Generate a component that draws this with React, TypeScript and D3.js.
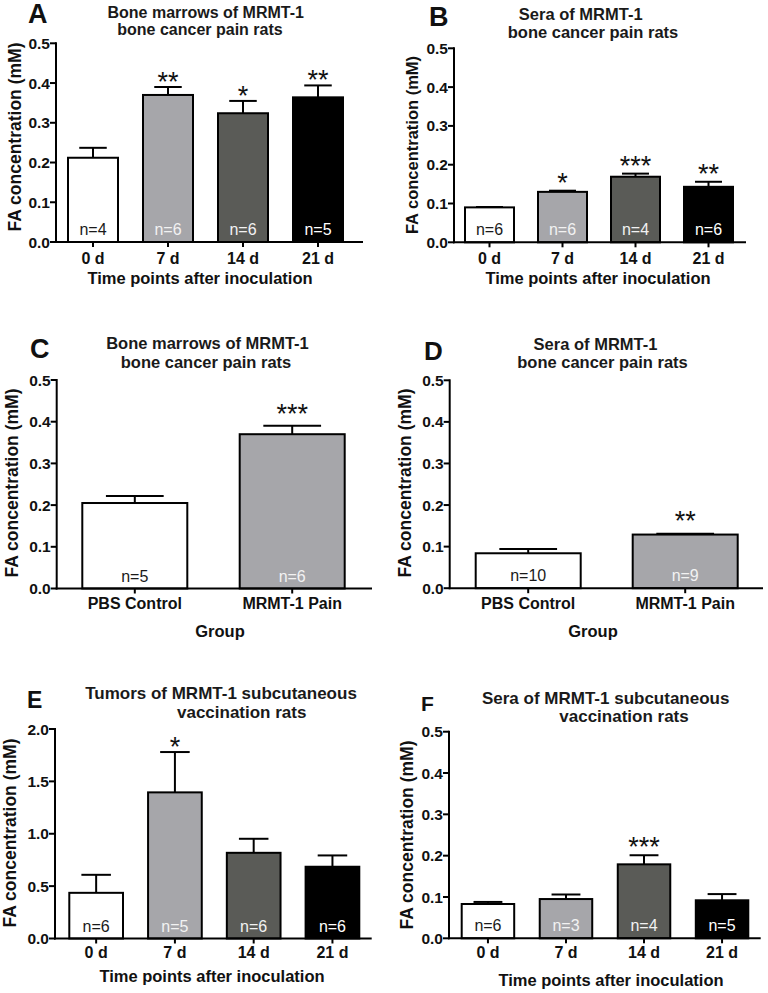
import React from "react";
import * as d3 from "d3";

const FONT = "'Liberation Sans', Arial, Helvetica, sans-serif";

// ---------- data ----------
const timeCategories = ["0 d", "7 d", "14 d", "21 d"];
const groupCategories = ["PBS Control", "MRMT-1 Pain"];

const aMeans = [0.212, 0.370, 0.324, 0.364];
const aSem = [0.025, 0.020, 0.031, 0.030];
const aN = [4, 6, 6, 5];
const aStars = ["", "**", "*", "**"];

const bMeans = [0.090, 0.130, 0.169, 0.143];
const bSem = [0.001, 0.003, 0.008, 0.013];
const bN = [6, 6, 4, 6];
const bStars = ["", "*", "***", "**"];

const cMeans = [0.205, 0.370];
const cSem = [0.017, 0.020];
const cN = [5, 6];
const cStars = ["", "***"];

const dMeans = [0.084, 0.129];
const dSem = [0.010, 0.002];
const dN = [10, 9];
const dStars = ["", "**"];

const eMeans = [0.436, 1.395, 0.818, 0.685];
const eSem = [0.172, 0.385, 0.134, 0.108];
const eN = [6, 5, 6, 6];
const eStars = ["", "*", "", ""];

const fMeans = [0.083, 0.095, 0.179, 0.092];
const fSem = [0.005, 0.011, 0.022, 0.015];
const fN = [6, 3, 4, 5];
const fStars = ["", "", "***", ""];

const titleA = ["Bone marrows of MRMT-1", "bone cancer pain rats"];
const titleB = ["Sera of MRMT-1", "bone cancer pain rats"];
const titleE = ["Tumors of MRMT-1 subcutaneous", "vaccination rats"];
const titleF = ["Sera of MRMT-1 subcutaneous", "vaccination rats"];
const yAxisTitle = "FA concentration (mM)";
const timeAxisTitle = "Time points after inoculation";
const groupAxisTitle = "Group";

// ---------- styles ----------
const timeFills = ["#ffffff", "#a6a6aa", "#5a5b57", "#000000"];
const timeTextFills = ["#1a1a1a", "#f2f2f2", "#f2f2f2", "#ffffff"];
const groupFills = ["#ffffff", "#a6a6aa"];
const groupTextFills = ["#1a1a1a", "#f2f2f2"];

type Panel = {
  letter: string; letterX: number; letterY: number; letterSize: number;
  title: string[]; titleX: number[]; titleY: number[]; titleSize: number;
  cats: string[]; means: number[]; sem: number[]; n: number[]; stars: string[];
  fills: string[]; textFills: string[];
  axisX: number; yTop: number; yBottom: number; yMax: number; tickCount: number;
  axisEnd: number; barLeft: number; barRight: number; barW: number;
  xLabelY: number; xTitle: string; xTitleX: number; xTitleY: number;
  yTitleX: number; yTitleY: number; yTitleSize: number; starGap: number;
};

const panels: Panel[] = [
  {
    letter: "A", letterX: 28, letterY: 23, letterSize: 27,
    title: titleA, titleX: [205.7, 200], titleY: [17.5, 34.5], titleSize: 16,
    cats: timeCategories, means: aMeans, sem: aSem, n: aN, stars: aStars,
    fills: timeFills, textFills: timeTextFills,
    axisX: 56, yTop: 43.3, yBottom: 242, yMax: 0.5, tickCount: 5,
    axisEnd: 363, barLeft: 68, barRight: 343, barW: 50,
    xLabelY: 263.5, xTitle: timeAxisTitle, xTitleX: 200, xTitleY: 284,
    yTitleX: 15, yTitleY: 137, yTitleSize: 17.5, starGap: 12,
  },
  {
    letter: "B", letterX: 429, letterY: 26, letterSize: 27,
    title: titleB, titleX: [580.7, 593], titleY: [20, 37.5], titleSize: 16.5,
    cats: timeCategories, means: bMeans, sem: bSem, n: bN, stars: bStars,
    fills: timeFills, textFills: timeTextFills,
    axisX: 454, yTop: 48.3, yBottom: 242.3, yMax: 0.5, tickCount: 5,
    axisEnd: 746, barLeft: 465, barRight: 733, barW: 49,
    xLabelY: 263.5, xTitle: timeAxisTitle, xTitleX: 598, xTitleY: 284,
    yTitleX: 412, yTitleY: 145, yTitleSize: 16.5, starGap: 14,
  },
  {
    letter: "C", letterX: 30, letterY: 358, letterSize: 27,
    title: titleA, titleX: [207.5, 206], titleY: [349, 368], titleSize: 16.5,
    cats: groupCategories, means: cMeans, sem: cSem, n: cN, stars: cStars,
    fills: groupFills, textFills: groupTextFills,
    axisX: 56.7, yTop: 380, yBottom: 588.5, yMax: 0.5, tickCount: 5,
    axisEnd: 372, barLeft: 82.3, barRight: 344.7, barW: 105,
    xLabelY: 609, xTitle: groupAxisTitle, xTitleX: 220, xTitleY: 637,
    yTitleX: 12, yTitleY: 483, yTitleSize: 17.5, starGap: 19,
  },
  {
    letter: "D", letterX: 424, letterY: 360, letterSize: 26,
    title: titleB, titleX: [595.5, 602.5], titleY: [350, 367.5], titleSize: 16.5,
    cats: groupCategories, means: dMeans, sem: dSem, n: dN, stars: dStars,
    fills: groupFills, textFills: groupTextFills,
    axisX: 449.7, yTop: 380.3, yBottom: 588.2, yMax: 0.5, tickCount: 5,
    axisEnd: 763, barLeft: 475.7, barRight: 737.7, barW: 105,
    xLabelY: 609, xTitle: groupAxisTitle, xTitleX: 593, xTitleY: 637,
    yTitleX: 404.5, yTitleY: 483, yTitleSize: 17.5, starGap: 19,
  },
  {
    letter: "E", letterX: 27, letterY: 708, letterSize: 23,
    title: titleE, titleX: [221, 241.7], titleY: [699, 718], titleSize: 17,
    cats: timeCategories, means: eMeans, sem: eSem, n: eN, stars: eStars,
    fills: timeFills, textFills: timeTextFills,
    axisX: 55, yTop: 729, yBottom: 938.5, yMax: 2.0, tickCount: 4,
    axisEnd: 371.7, barLeft: 69.3, barRight: 359.3, barW: 53.7,
    xLabelY: 958, xTitle: timeAxisTitle, xTitleX: 212, xTitleY: 981.5,
    yTitleX: 10, yTitleY: 833, yTitleSize: 17.5, starGap: 12,
  },
  {
    letter: "F", letterX: 421, letterY: 711, letterSize: 21,
    title: titleF, titleX: [605.7, 624], titleY: [704, 722], titleSize: 17,
    cats: timeCategories, means: fMeans, sem: fSem, n: fN, stars: fStars,
    fills: timeFills, textFills: timeTextFills,
    axisX: 449, yTop: 731.7, yBottom: 938.3, yMax: 0.5, tickCount: 5,
    axisEnd: 760.7, barLeft: 461.7, barRight: 748.3, barW: 52.5,
    xLabelY: 958, xTitle: timeAxisTitle, xTitleX: 611, xTitleY: 986,
    yTitleX: 406.5, yTitleY: 835, yTitleSize: 17.5, starGap: 15,
  },
];

const fmt = d3.format(".1f");

function BarPanel({ p }: { p: Panel }) {
  const y = d3.scaleLinear().domain([0, p.yMax]).range([p.yBottom, p.yTop]);
  const x = d3
    .scalePoint<string>()
    .domain(p.cats)
    .range([p.barLeft + p.barW / 2, p.barRight - p.barW / 2]);
  const ticks = y.ticks(p.tickCount);
  const capW = p.barW * 0.55;
  const starSize = 27;

  return (
    <g>
      <text x={p.letterX} y={p.letterY} fontSize={p.letterSize} fontWeight="bold" fontFamily={FONT} fill="#111">
        {p.letter}
      </text>
      {p.title.map((t, i) => (
        <text key={i} x={p.titleX[i]} y={p.titleY[i]} textAnchor="middle" fontSize={p.titleSize}
          fontWeight="bold" fontFamily={FONT} fill="#1a1a1a">
          {t}
        </text>
      ))}
      {p.cats.map((c, i) => {
        const cx = x(c) as number;
        const top = y(p.means[i]);
        const errTop = y(p.means[i] + p.sem[i]);
        return (
          <g key={c}>
            <line x1={cx} x2={cx} y1={top} y2={errTop} stroke="#000" strokeWidth={2} />
            <line x1={cx - capW / 2} x2={cx + capW / 2} y1={errTop} y2={errTop} stroke="#000" strokeWidth={2} />
            <rect x={cx - p.barW / 2} y={top} width={p.barW} height={p.yBottom - top}
              fill={p.fills[i]} stroke="#000" strokeWidth={2} />
            <text x={cx} y={p.yBottom - 7} textAnchor="middle" fontSize={16} fontFamily={FONT}
              fill={p.textFills[i]}>
              {"n=" + p.n[i]}
            </text>
            {p.stars[i] && (
              <text x={cx} y={errTop - p.starGap + starSize * 0.58} textAnchor="middle"
                fontSize={starSize} fontFamily={FONT} fill="#111">
                {p.stars[i]}
              </text>
            )}
            <line x1={cx} x2={cx} y1={p.yBottom} y2={p.yBottom + 5} stroke="#000" strokeWidth={2} />
            <text x={cx} y={p.xLabelY} textAnchor="middle" fontSize={16} fontWeight="bold"
              fontFamily={FONT} fill="#111">
              {c}
            </text>
          </g>
        );
      })}
      <line x1={p.axisX} x2={p.axisX} y1={p.yTop - 1} y2={p.yBottom + 1} stroke="#000" strokeWidth={2} />
      <line x1={p.axisX - 1} x2={p.axisEnd} y1={p.yBottom} y2={p.yBottom} stroke="#000" strokeWidth={2} />
      {ticks.map((t) => (
        <g key={t}>
          <line x1={p.axisX - 6} x2={p.axisX} y1={y(t)} y2={y(t)} stroke="#000" strokeWidth={2} />
          <text x={p.axisX - 6} y={y(t)} dy="0.36em" textAnchor="end" fontSize={15.5}
            fontWeight="bold" fontFamily={FONT} fill="#111">
            {fmt(t)}
          </text>
        </g>
      ))}
      <text x={p.xTitleX} y={p.xTitleY} textAnchor="middle" fontSize={16.5} fontWeight="bold"
        fontFamily={FONT} fill="#111">
        {p.xTitle}
      </text>
      <text transform={`translate(${p.yTitleX},${p.yTitleY}) rotate(-90)`} dy="0.36em" textAnchor="middle"
        fontSize={p.yTitleSize} fontWeight="bold" fontFamily={FONT} fill="#111">
        {yAxisTitle}
      </text>
    </g>
  );
}

export default function App() {
  return (
    <svg
      width={768}
      height={993}
      viewBox="0 0 768 993"
      style={{ position: "absolute", left: 0, top: 0, background: "#ffffff" }}
    >
      <rect x={0} y={0} width={768} height={993} fill="#ffffff" />
      {panels.map((p) => (
        <BarPanel key={p.letter} p={p} />
      ))}
    </svg>
  );
}
